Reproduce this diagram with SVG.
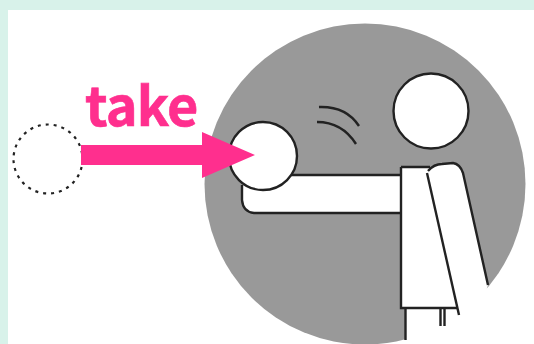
<svg xmlns="http://www.w3.org/2000/svg" width="534" height="344" viewBox="0 0 534 344">
<style>
.ln{fill:none;stroke:#222;stroke-width:2.400}
.wh{fill:#fff;stroke:#222;stroke-width:2.400}
.no{fill:#fff;stroke:none}
</style>
<rect width="534" height="344" fill="#d8f2ea"/>
<rect x="8" y="10" width="526" height="334" fill="#fff"/>
<g id="dotted-circle"><circle cx="48" cy="159" r="34.5" fill="#fff" stroke="#222" stroke-width="2.2" stroke-dasharray="3 5"/></g>
<g id="scene">
<circle cx="365" cy="184" r="160.5" fill="#999"/>
<path class="no" d="M430 168Q434 164 442 164L453 163Q460 164 463 173L488 285L470 344H405V308H401V167H430Z"/>
<path class="no" d="M242 175H402V213H255Q243 213 242 200Z"/>
<path class="ln" d="M285 175H401M401 213H254Q243 212 242 200V185"/>
<path class="ln" d="M401 167V308H458M401 167H430"/>
<path class="ln" d="M427 173L459 315"/>
<path class="ln" d="M428 171Q434 164 442 164L453 163Q460 164 463 173L488 285"/>
<path class="ln" d="M405.500 308V340M440.500 308V326M444.500 308V326"/>
<circle class="wh" cx="431" cy="111" r="37.500"/>
<circle class="wh" cx="263" cy="156" r="34"/>
<path class="ln" d="M319 107Q346 106 359 126M317 122Q342 122 356 144"/>
</g>
<g id="take-arrow">
<path d="M81 145H202V132L255 155L202 178V165H81Z" fill="#ff2f8e"/>
<text x="85" y="126" font-family="Noto Sans CJK JP, sans-serif" font-weight="700" font-size="54" letter-spacing="-0.800" fill="#ff2f8e" stroke="#ff2f8e" stroke-width="0.600">take</text>
</g>
</svg>
